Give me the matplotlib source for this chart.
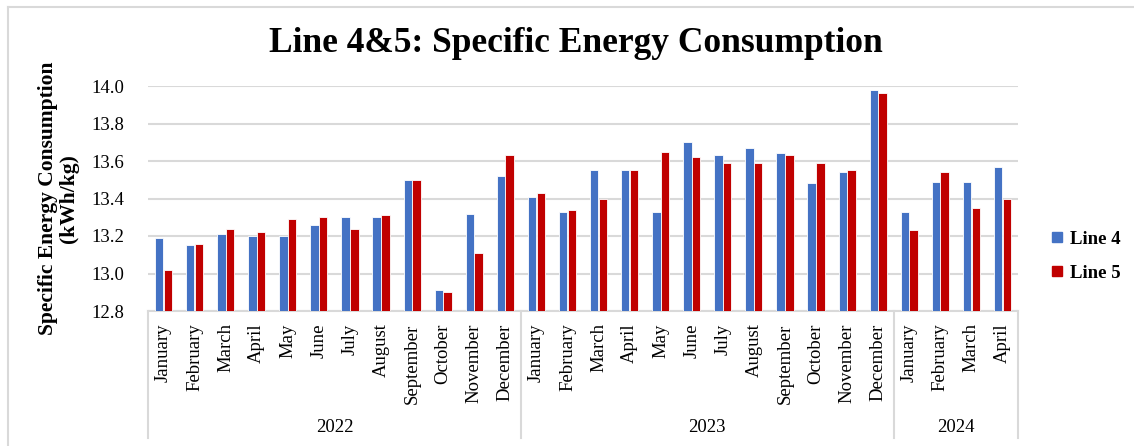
import numpy as np
import matplotlib
matplotlib.use('Agg')
import matplotlib.pyplot as plt
from matplotlib.lines import Line2D

plt.rcParams['font.family'] = 'Liberation Serif'

# data
months = ['January', 'February', 'March', 'April', 'May', 'June', 'July',
          'August', 'September', 'October', 'November', 'December',
          'January', 'February', 'March', 'April', 'May', 'June', 'July',
          'August', 'September', 'October', 'November', 'December',
          'January', 'February', 'March', 'April']
years = ['2022', '2023', '2024']
year_counts = [12, 12, 4]

line4 = [13.19, 13.15, 13.21, 13.20, 13.20, 13.26, 13.30, 13.30, 13.50, 12.91,
         13.32, 13.52, 13.41, 13.33, 13.55, 13.55, 13.33, 13.70, 13.63, 13.67,
         13.64, 13.48, 13.54, 13.98, 13.33, 13.49, 13.49, 13.57]
line5 = [13.02, 13.16, 13.24, 13.22, 13.29, 13.30, 13.24, 13.31, 13.50, 12.90,
         13.11, 13.63, 13.43, 13.34, 13.40, 13.55, 13.65, 13.62, 13.59, 13.59,
         13.63, 13.59, 13.55, 13.96, 13.23, 13.54, 13.35, 13.40]

blue = '#4472C4'
red = '#C00000'
grey = '#D9D9D9'

W, H = 1134, 446
fig = plt.figure(figsize=(W / 100, H / 100), dpi=100)

# chart area border (left and top edges visible)
fig.add_artist(Line2D([7.5 / W, 7.5 / W], [0, 1 - 6.5 / H], color=grey, lw=1.5))
fig.add_artist(Line2D([7.5 / W, 1], [1 - 6.5 / H, 1 - 6.5 / H], color=grey, lw=1.5))

ax = fig.add_axes([148 / W, (H - 311) / H, 870 / W, 225 / H])

x = np.arange(len(months))
bw = 0.27
ax.bar(x - 0.14, line4, width=bw, color=blue, edgecolor='white', linewidth=0.6, zorder=3)
ax.bar(x + 0.14, line5, width=bw, color=red, edgecolor='white', linewidth=0.6, zorder=3)

ax.set_ylim(12.8, 14.0)
ax.set_xlim(-0.5, len(months) - 0.5)
ax.set_yticks(np.arange(12.8, 14.01, 0.2))
ax.set_yticklabels([f'{v:.1f}' for v in np.arange(12.8, 14.01, 0.2)])
ax.yaxis.grid(True, color=grey, lw=1.5, zorder=0)
ax.tick_params(axis='y', length=0, pad=17, labelsize=13.5)

ax.set_xticks(x)
ax.set_xticklabels(months, rotation=90, fontsize=13.5, va='top')
ax.tick_params(axis='x', length=0, pad=9)

for s in ['left', 'top', 'right']:
    ax.spines[s].set_visible(False)
ax.spines['bottom'].set_color(grey)
ax.spines['bottom'].set_linewidth(1.5)

# year grouping: separators and labels
trans = ax.get_xaxis_transform()
bounds = np.concatenate([[0], np.cumsum(year_counts)]) - 0.5
for b in bounds:
    ax.plot([b, b], [0, -0.565], color=grey, lw=1.5, transform=trans, clip_on=False)
for i, yr in enumerate(years):
    ax.text((bounds[i] + bounds[i + 1]) / 2, -0.52, yr, transform=trans,
            ha='center', va='center', fontsize=13.5)

ax.set_ylabel('Specific Energy Consumption\n(kWh/kg)', fontsize=15.5,
              fontweight='bold', labelpad=9, linespacing=1.1)

fig.text(576 / W, 1 - 43 / H, 'Line 4&5: Specific Energy Consumption',
         ha='center', va='center', fontsize=25.5, fontweight='bold')

handles = [Line2D([], [], marker='s', ls='none', color=blue, markersize=7.5),
           Line2D([], [], marker='s', ls='none', color=red, markersize=7.5)]
fig.legend(handles, ['Line 4', 'Line 5'], loc='center left',
           bbox_to_anchor=(1033 / W, 1 - 256 / H), frameon=False,
           prop={'weight': 'bold', 'size': 13.5}, handlelength=0.8,
           handletextpad=0.3, labelspacing=0.9)

fig.savefig('out.png', dpi=100)
